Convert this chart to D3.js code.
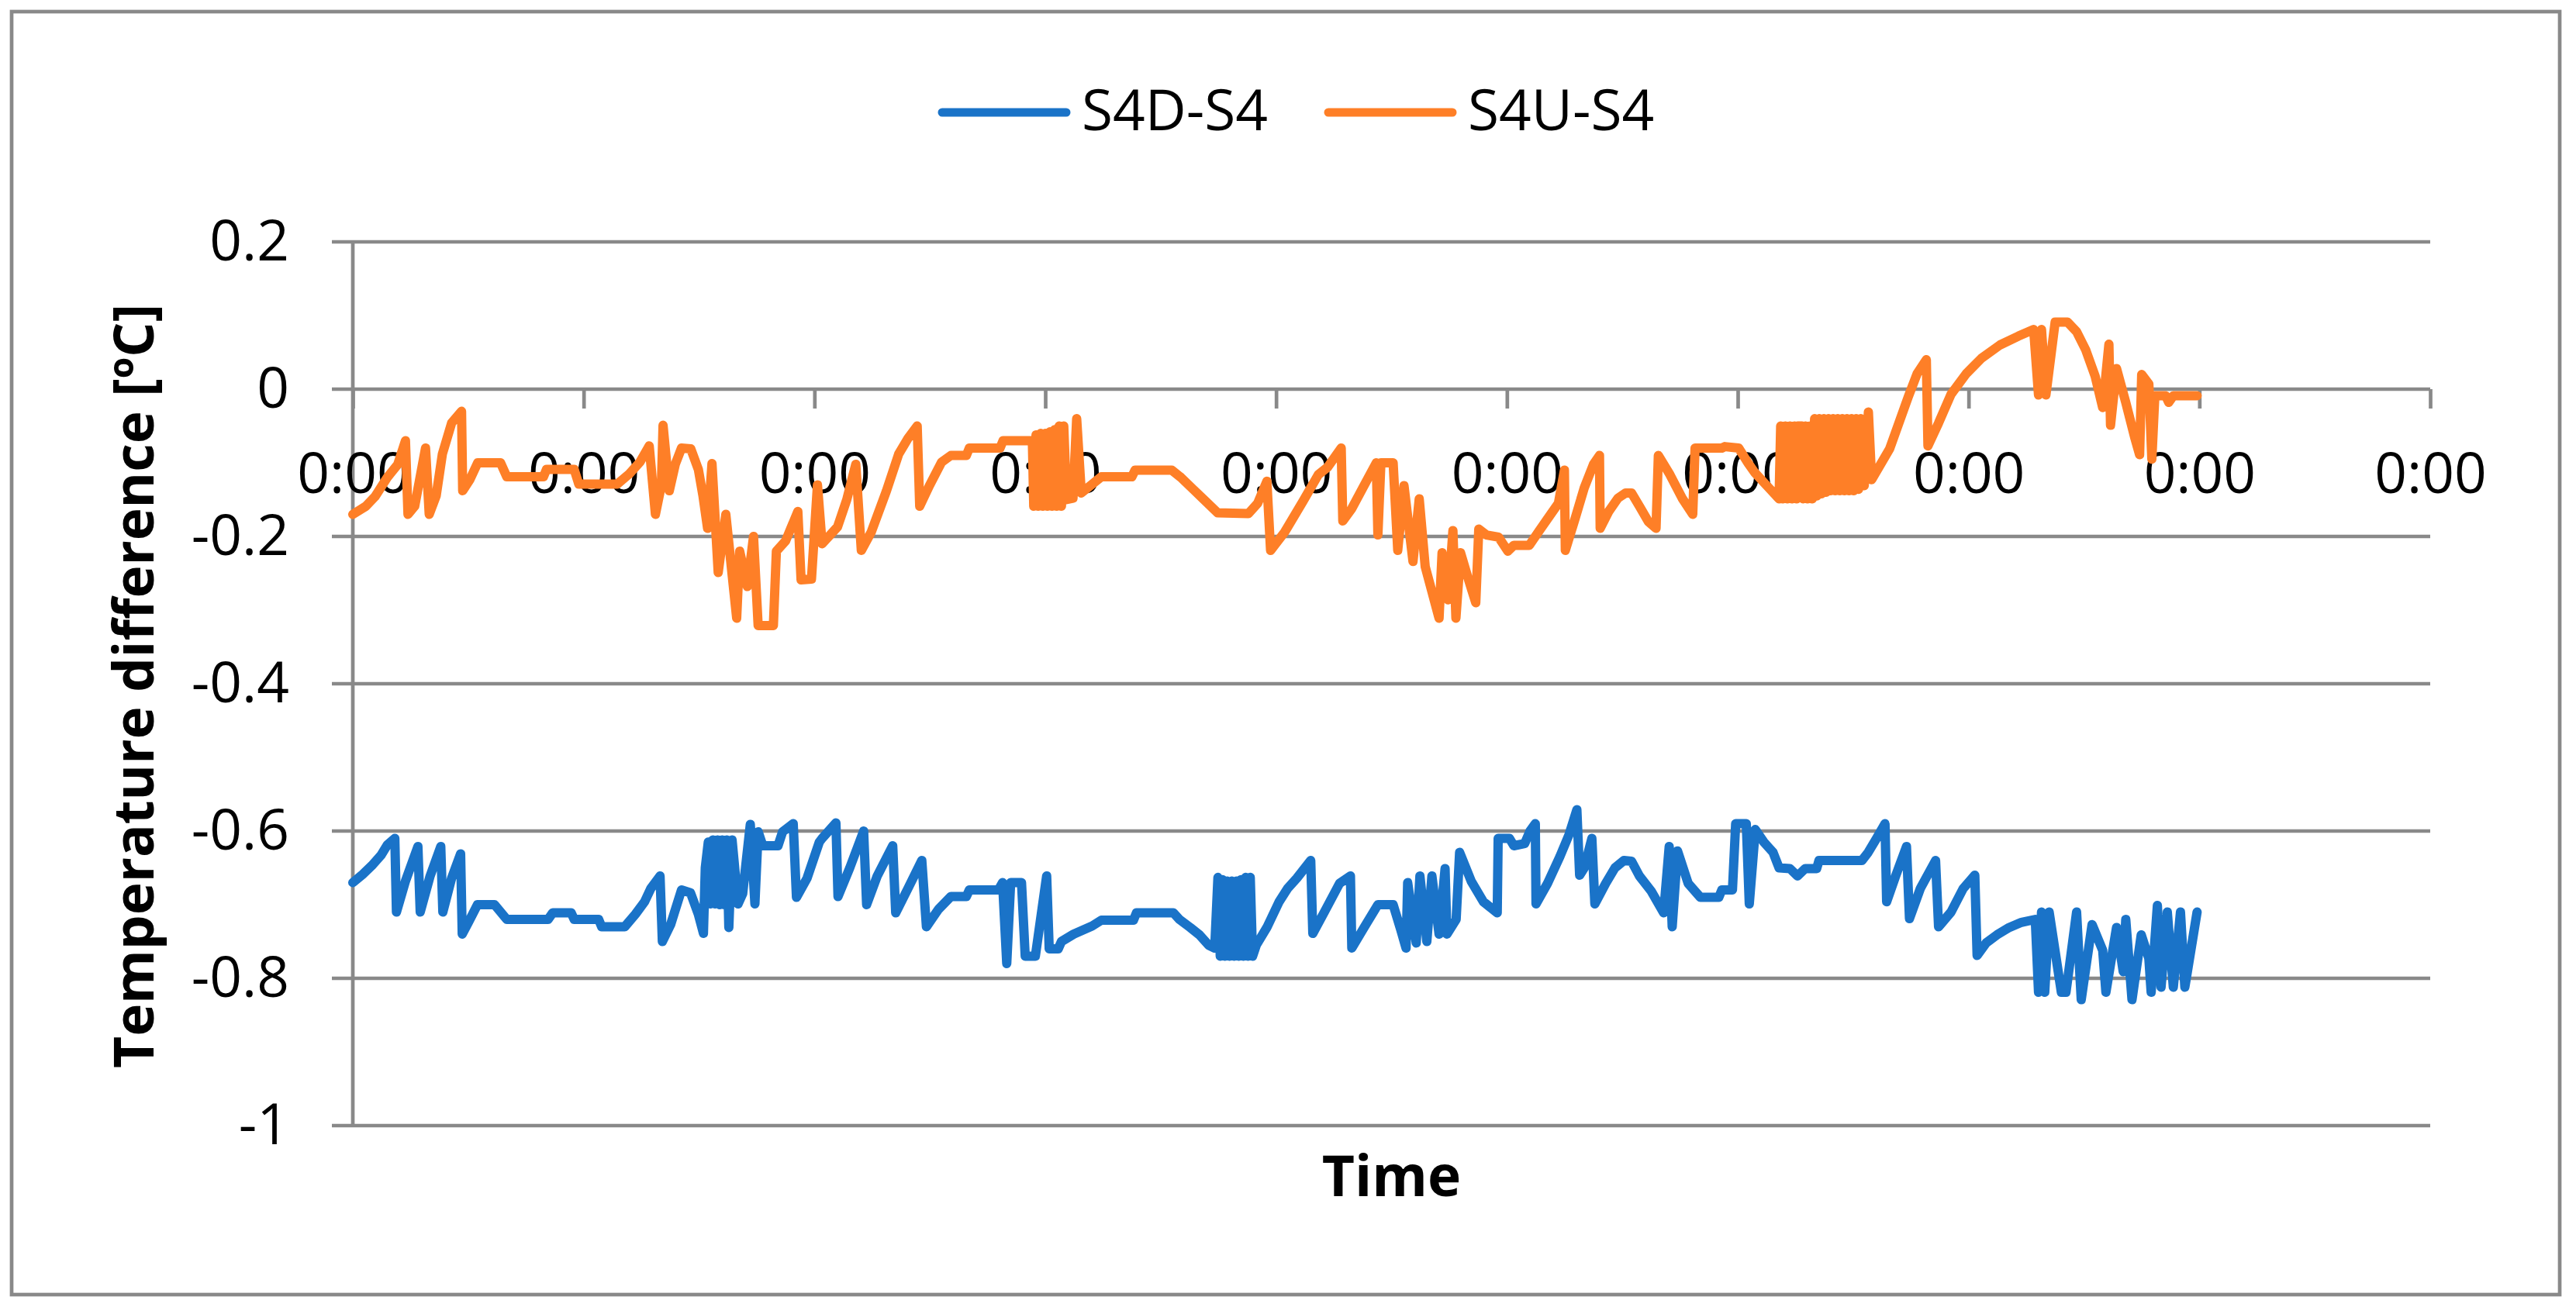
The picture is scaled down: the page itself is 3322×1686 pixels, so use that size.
<!DOCTYPE html>
<html>
<head>
<meta charset="utf-8">
<script src="https://cdn.jsdelivr.net/npm/d3@7"></script>
<style>
  html, body { margin: 0; padding: 0; background: #ffffff; }
  svg { display: block; }
  text { font-family: "Open Sans", "Noto Sans", sans-serif; fill: #000; }
</style>
</head>
<body>
<script>
// ---------------- data (time in days from the first 0:00 tick) ----------------
const seriesNames = ["S4D-S4", "S4U-S4"];
const yTickValues = [0.2, 0, -0.2, -0.4, -0.6, -0.8, -1];
const xTickCount = 9;          // number of day intervals on the axis
const xTickLabelFormat = "%-H:%M";

const s4dTime = [0.000,0.042,0.082,0.122,0.149,0.182,0.189,0.228,0.282,0.292,0.335,0.381,0.390,0.428,0.467,0.474,0.501,0.540,0.614,0.667,0.846,0.866,0.946,0.959,1.065,1.078,1.178,1.224,1.264,1.291,1.331,1.341,1.377,1.424,1.463,1.497,1.519,1.527,1.540,1.550,1.560,1.570,1.580,1.590,1.600,1.610,1.620,1.629,1.643,1.669,1.689,1.722,1.742,1.756,1.776,1.842,1.862,1.908,1.922,1.968,2.021,2.033,2.093,2.102,2.153,2.213,2.226,2.272,2.339,2.352,2.405,2.465,2.485,2.538,2.591,2.658,2.671,2.797,2.815,2.833,2.850,2.897,2.913,2.957,3.006,3.017,3.056,3.070,3.123,3.203,3.243,3.382,3.395,3.555,3.581,3.628,3.668,3.708,3.734,3.748,3.758,3.768,3.778,3.788,3.798,3.808,3.818,3.828,3.838,3.848,3.858,3.868,3.878,3.888,3.898,3.914,3.960,4.013,4.050,4.090,4.150,4.159,4.209,4.275,4.322,4.328,4.381,4.441,4.507,4.540,4.563,4.570,4.607,4.623,4.653,4.675,4.706,4.732,4.740,4.780,4.795,4.845,4.898,4.958,4.962,5.011,5.030,5.077,5.100,5.123,5.126,5.176,5.229,5.269,5.303,5.315,5.335,5.368,5.381,5.428,5.468,5.507,5.540,5.574,5.626,5.679,5.703,5.716,5.739,5.785,5.838,5.918,5.931,5.977,5.991,6.037,6.050,6.076,6.113,6.153,6.179,6.226,6.259,6.292,6.342,6.352,6.538,6.565,6.605,6.638,6.645,6.684,6.731,6.744,6.791,6.857,6.870,6.924,6.977,7.027,7.037,7.076,7.123,7.176,7.229,7.289,7.303,7.316,7.330,7.349,7.402,7.422,7.468,7.488,7.535,7.581,7.595,7.641,7.670,7.681,7.708,7.748,7.781,7.791,7.818,7.834,7.861,7.887,7.918,7.937,7.990];
const s4dValue = [-0.670,-0.659,-0.647,-0.633,-0.619,-0.610,-0.710,-0.668,-0.621,-0.710,-0.661,-0.621,-0.710,-0.664,-0.631,-0.740,-0.724,-0.700,-0.700,-0.720,-0.720,-0.711,-0.711,-0.720,-0.720,-0.730,-0.730,-0.713,-0.696,-0.678,-0.661,-0.750,-0.727,-0.680,-0.684,-0.713,-0.739,-0.650,-0.615,-0.699,-0.612,-0.699,-0.612,-0.700,-0.612,-0.700,-0.612,-0.731,-0.612,-0.699,-0.685,-0.591,-0.699,-0.601,-0.620,-0.620,-0.601,-0.590,-0.690,-0.664,-0.615,-0.610,-0.589,-0.689,-0.650,-0.600,-0.700,-0.661,-0.620,-0.711,-0.678,-0.640,-0.730,-0.706,-0.689,-0.689,-0.680,-0.680,-0.670,-0.780,-0.670,-0.670,-0.770,-0.770,-0.661,-0.760,-0.760,-0.750,-0.740,-0.729,-0.721,-0.721,-0.711,-0.711,-0.720,-0.731,-0.741,-0.755,-0.759,-0.663,-0.770,-0.666,-0.770,-0.668,-0.770,-0.668,-0.770,-0.668,-0.770,-0.666,-0.770,-0.663,-0.770,-0.663,-0.770,-0.755,-0.731,-0.696,-0.678,-0.664,-0.640,-0.739,-0.710,-0.671,-0.661,-0.759,-0.731,-0.700,-0.700,-0.734,-0.759,-0.670,-0.752,-0.661,-0.750,-0.661,-0.740,-0.651,-0.740,-0.720,-0.629,-0.668,-0.696,-0.711,-0.610,-0.610,-0.620,-0.617,-0.600,-0.590,-0.699,-0.671,-0.635,-0.605,-0.571,-0.660,-0.650,-0.610,-0.699,-0.671,-0.650,-0.640,-0.641,-0.661,-0.682,-0.711,-0.621,-0.730,-0.627,-0.671,-0.690,-0.690,-0.680,-0.680,-0.590,-0.590,-0.699,-0.598,-0.615,-0.629,-0.650,-0.651,-0.661,-0.651,-0.651,-0.640,-0.640,-0.629,-0.608,-0.590,-0.696,-0.661,-0.621,-0.719,-0.678,-0.640,-0.730,-0.710,-0.678,-0.660,-0.769,-0.752,-0.741,-0.731,-0.724,-0.720,-0.819,-0.710,-0.819,-0.710,-0.819,-0.819,-0.710,-0.829,-0.727,-0.762,-0.819,-0.731,-0.791,-0.720,-0.829,-0.741,-0.773,-0.819,-0.701,-0.812,-0.710,-0.812,-0.710,-0.812,-0.710,-0.710];

const s4uTime = [0.000,0.056,0.096,0.149,0.195,0.228,0.239,0.268,0.315,0.331,0.361,0.388,0.428,0.471,0.476,0.507,0.541,0.640,0.667,0.826,0.839,0.959,0.979,1.145,1.198,1.244,1.284,1.311,1.337,1.344,1.371,1.397,1.424,1.464,1.497,1.517,1.537,1.556,1.583,1.616,1.663,1.676,1.709,1.736,1.756,1.822,1.835,1.875,1.928,1.942,1.987,2.013,2.033,2.100,2.140,2.179,2.203,2.246,2.312,2.365,2.405,2.445,2.456,2.498,2.551,2.591,2.658,2.671,2.804,2.817,2.944,2.950,2.960,2.970,2.980,2.990,3.000,3.010,3.020,3.030,3.040,3.050,3.060,3.070,3.080,3.092,3.120,3.136,3.156,3.203,3.243,3.375,3.389,3.548,3.588,3.641,3.694,3.747,3.880,3.920,3.960,3.976,4.037,4.117,4.183,4.223,4.282,4.289,4.328,4.381,4.434,4.441,4.454,4.507,4.527,4.554,4.593,4.620,4.646,4.706,4.719,4.745,4.766,4.779,4.799,4.832,4.865,4.878,4.911,4.964,5.004,5.030,5.097,5.136,5.176,5.223,5.249,5.253,5.295,5.335,5.375,5.401,5.404,5.441,5.481,5.514,5.540,5.574,5.613,5.646,5.656,5.706,5.759,5.805,5.815,5.931,5.944,6.004,6.044,6.073,6.126,6.179,6.186,6.196,6.206,6.216,6.226,6.236,6.246,6.256,6.259,6.279,6.283,6.293,6.303,6.313,6.323,6.333,6.343,6.353,6.363,6.373,6.383,6.393,6.403,6.413,6.423,6.433,6.443,6.453,6.463,6.473,6.483,6.493,6.503,6.513,6.523,6.533,6.548,6.566,6.580,6.658,6.738,6.777,6.817,6.824,6.870,6.924,6.990,7.056,7.136,7.216,7.282,7.303,7.316,7.335,7.375,7.429,7.468,7.508,7.548,7.581,7.608,7.615,7.641,7.681,7.721,7.741,7.750,7.781,7.794,7.807,7.854,7.867,7.887,7.990];
const s4uValue = [-0.170,-0.159,-0.146,-0.120,-0.102,-0.070,-0.170,-0.159,-0.080,-0.170,-0.145,-0.088,-0.046,-0.030,-0.138,-0.123,-0.100,-0.100,-0.119,-0.119,-0.109,-0.109,-0.129,-0.129,-0.115,-0.099,-0.077,-0.170,-0.130,-0.049,-0.138,-0.102,-0.080,-0.081,-0.109,-0.145,-0.189,-0.101,-0.249,-0.170,-0.311,-0.220,-0.268,-0.200,-0.321,-0.321,-0.220,-0.206,-0.166,-0.259,-0.258,-0.130,-0.210,-0.187,-0.150,-0.102,-0.219,-0.194,-0.138,-0.088,-0.067,-0.050,-0.159,-0.131,-0.099,-0.090,-0.090,-0.080,-0.080,-0.070,-0.070,-0.159,-0.062,-0.159,-0.060,-0.159,-0.060,-0.159,-0.058,-0.159,-0.055,-0.159,-0.050,-0.159,-0.050,-0.150,-0.148,-0.040,-0.141,-0.129,-0.119,-0.119,-0.110,-0.110,-0.120,-0.136,-0.152,-0.168,-0.169,-0.155,-0.125,-0.219,-0.194,-0.152,-0.116,-0.106,-0.080,-0.179,-0.162,-0.131,-0.100,-0.198,-0.100,-0.100,-0.219,-0.131,-0.234,-0.149,-0.241,-0.311,-0.222,-0.286,-0.192,-0.311,-0.222,-0.257,-0.290,-0.190,-0.198,-0.201,-0.220,-0.212,-0.212,-0.194,-0.176,-0.155,-0.110,-0.219,-0.176,-0.134,-0.102,-0.090,-0.189,-0.166,-0.148,-0.141,-0.141,-0.159,-0.180,-0.189,-0.090,-0.116,-0.148,-0.170,-0.080,-0.080,-0.078,-0.080,-0.100,-0.113,-0.131,-0.149,-0.050,-0.149,-0.050,-0.149,-0.050,-0.149,-0.050,-0.149,-0.050,-0.050,-0.149,-0.050,-0.149,-0.050,-0.149,-0.040,-0.145,-0.040,-0.142,-0.040,-0.140,-0.040,-0.138,-0.040,-0.138,-0.040,-0.138,-0.040,-0.138,-0.040,-0.138,-0.040,-0.138,-0.040,-0.136,-0.040,-0.131,-0.031,-0.123,-0.081,-0.011,0.021,0.040,-0.077,-0.046,-0.007,0.021,0.042,0.060,0.072,0.081,-0.008,0.081,-0.008,0.091,0.091,0.078,0.053,0.018,-0.025,0.061,-0.049,0.028,-0.018,-0.067,-0.089,0.020,0.007,-0.095,-0.009,-0.009,-0.018,-0.009,-0.009];

// ---------------- layout ----------------
const W = 3322, H = 1686;
const plot = { left: 455, right: 3134, top: 312, bottom: 1452 };
const colors = ["#1A73C8", "#FE7F27"];
const gridColor = "#898989";
const DAY = 864e5;
const base = new Date(2017, 0, 1, 0, 0, 0);
const toDate = d => new Date(base.getTime() + d * DAY);

const svg = d3.select("body").append("svg")
  .attr("width", W).attr("height", H);

svg.append("rect").attr("x", 0).attr("y", 0).attr("width", W).attr("height", H).attr("fill", "#fff");
// outer chart frame
svg.append("rect")
  .attr("x", 15).attr("y", 15).attr("width", 3286).attr("height", 1655)
  .attr("fill", "none").attr("stroke", gridColor).attr("stroke-width", 4.7);

const x = d3.scaleTime()
  .domain([base, toDate(xTickCount)])
  .range([plot.left, plot.right]);
const y = d3.scaleLinear()
  .domain([-1, 0.2])
  .range([plot.bottom, plot.top]);

// horizontal gridlines (with outer tick stubs)
svg.append("g").selectAll("line").data(yTickValues).join("line")
  .attr("x1", plot.left - 27).attr("x2", plot.right)
  .attr("y1", d => y(d)).attr("y2", d => y(d))
  .attr("stroke", gridColor).attr("stroke-width", 4.7);

// y axis line
svg.append("line")
  .attr("x1", plot.left).attr("x2", plot.left)
  .attr("y1", plot.top).attr("y2", plot.bottom)
  .attr("stroke", gridColor).attr("stroke-width", 4.7);

// y axis labels
const yAxis = d3.axisLeft(y).tickValues(yTickValues).tickSize(0).tickPadding(82)
  .tickFormat(d => String(d));
const gy = svg.append("g").attr("transform", `translate(${plot.left},0)`).call(yAxis);
gy.select(".domain").remove();
gy.selectAll("text").attr("font-size", 73).attr("font-family", "Open Sans").attr("fill", "#000");

// x axis at value 0
const xTicks = d3.range(0, xTickCount + 1).map(toDate);
const xAxis = d3.axisBottom(x).tickValues(xTicks).tickSize(25).tickPadding(0)
  .tickFormat(d3.timeFormat(xTickLabelFormat));
const gx = svg.append("g").attr("transform", `translate(0,${y(0)})`).call(xAxis);
gx.select(".domain").remove();
gx.selectAll(".tick line").attr("stroke", gridColor).attr("stroke-width", 4.7);
gx.selectAll("text").attr("font-size", 73).attr("font-family", "Open Sans")
  .attr("fill", "#000").attr("y", 134).attr("dy", null);

// series lines
const line = d3.line()
  .x(d => x(toDate(d[0])))
  .y(d => y(d[1]));
const series = [
  { name: seriesNames[0], pts: d3.zip(s4dTime, s4dValue), color: colors[0] },
  { name: seriesNames[1], pts: d3.zip(s4uTime, s4uValue), color: colors[1] }
];
svg.append("g").selectAll("path").data(series).join("path")
  .attr("d", d => line(d.pts))
  .attr("fill", "none")
  .attr("stroke", d => d.color)
  .attr("stroke-width", 12)
  .attr("stroke-linejoin", "round")
  .attr("stroke-linecap", "round");

// axis titles
svg.append("text")
  .attr("transform", "translate(198,885) rotate(-90)")
  .attr("text-anchor", "middle")
  .attr("font-size", 71).attr("font-weight", "bold")
  .text("Temperature difference [ºC]");
svg.append("text")
  .attr("x", (plot.left + plot.right) / 2).attr("y", 1543)
  .attr("text-anchor", "middle")
  .attr("font-size", 73).attr("font-weight", "bold")
  .text("Time");

// legend
const legendX = [1215, 1713];
const lg = svg.append("g").selectAll("g").data(series).join("g")
  .attr("transform", (d, i) => `translate(${legendX[i]},145)`);
lg.append("line").attr("x1", 0).attr("x2", 160).attr("y1", 0).attr("y2", 0)
  .attr("stroke", d => d.color).attr("stroke-width", 11).attr("stroke-linecap", "round");
lg.append("text").attr("x", 180).attr("y", 23)
  .attr("font-size", 73)
  .text(d => d.name);
</script>
</body>
</html>
